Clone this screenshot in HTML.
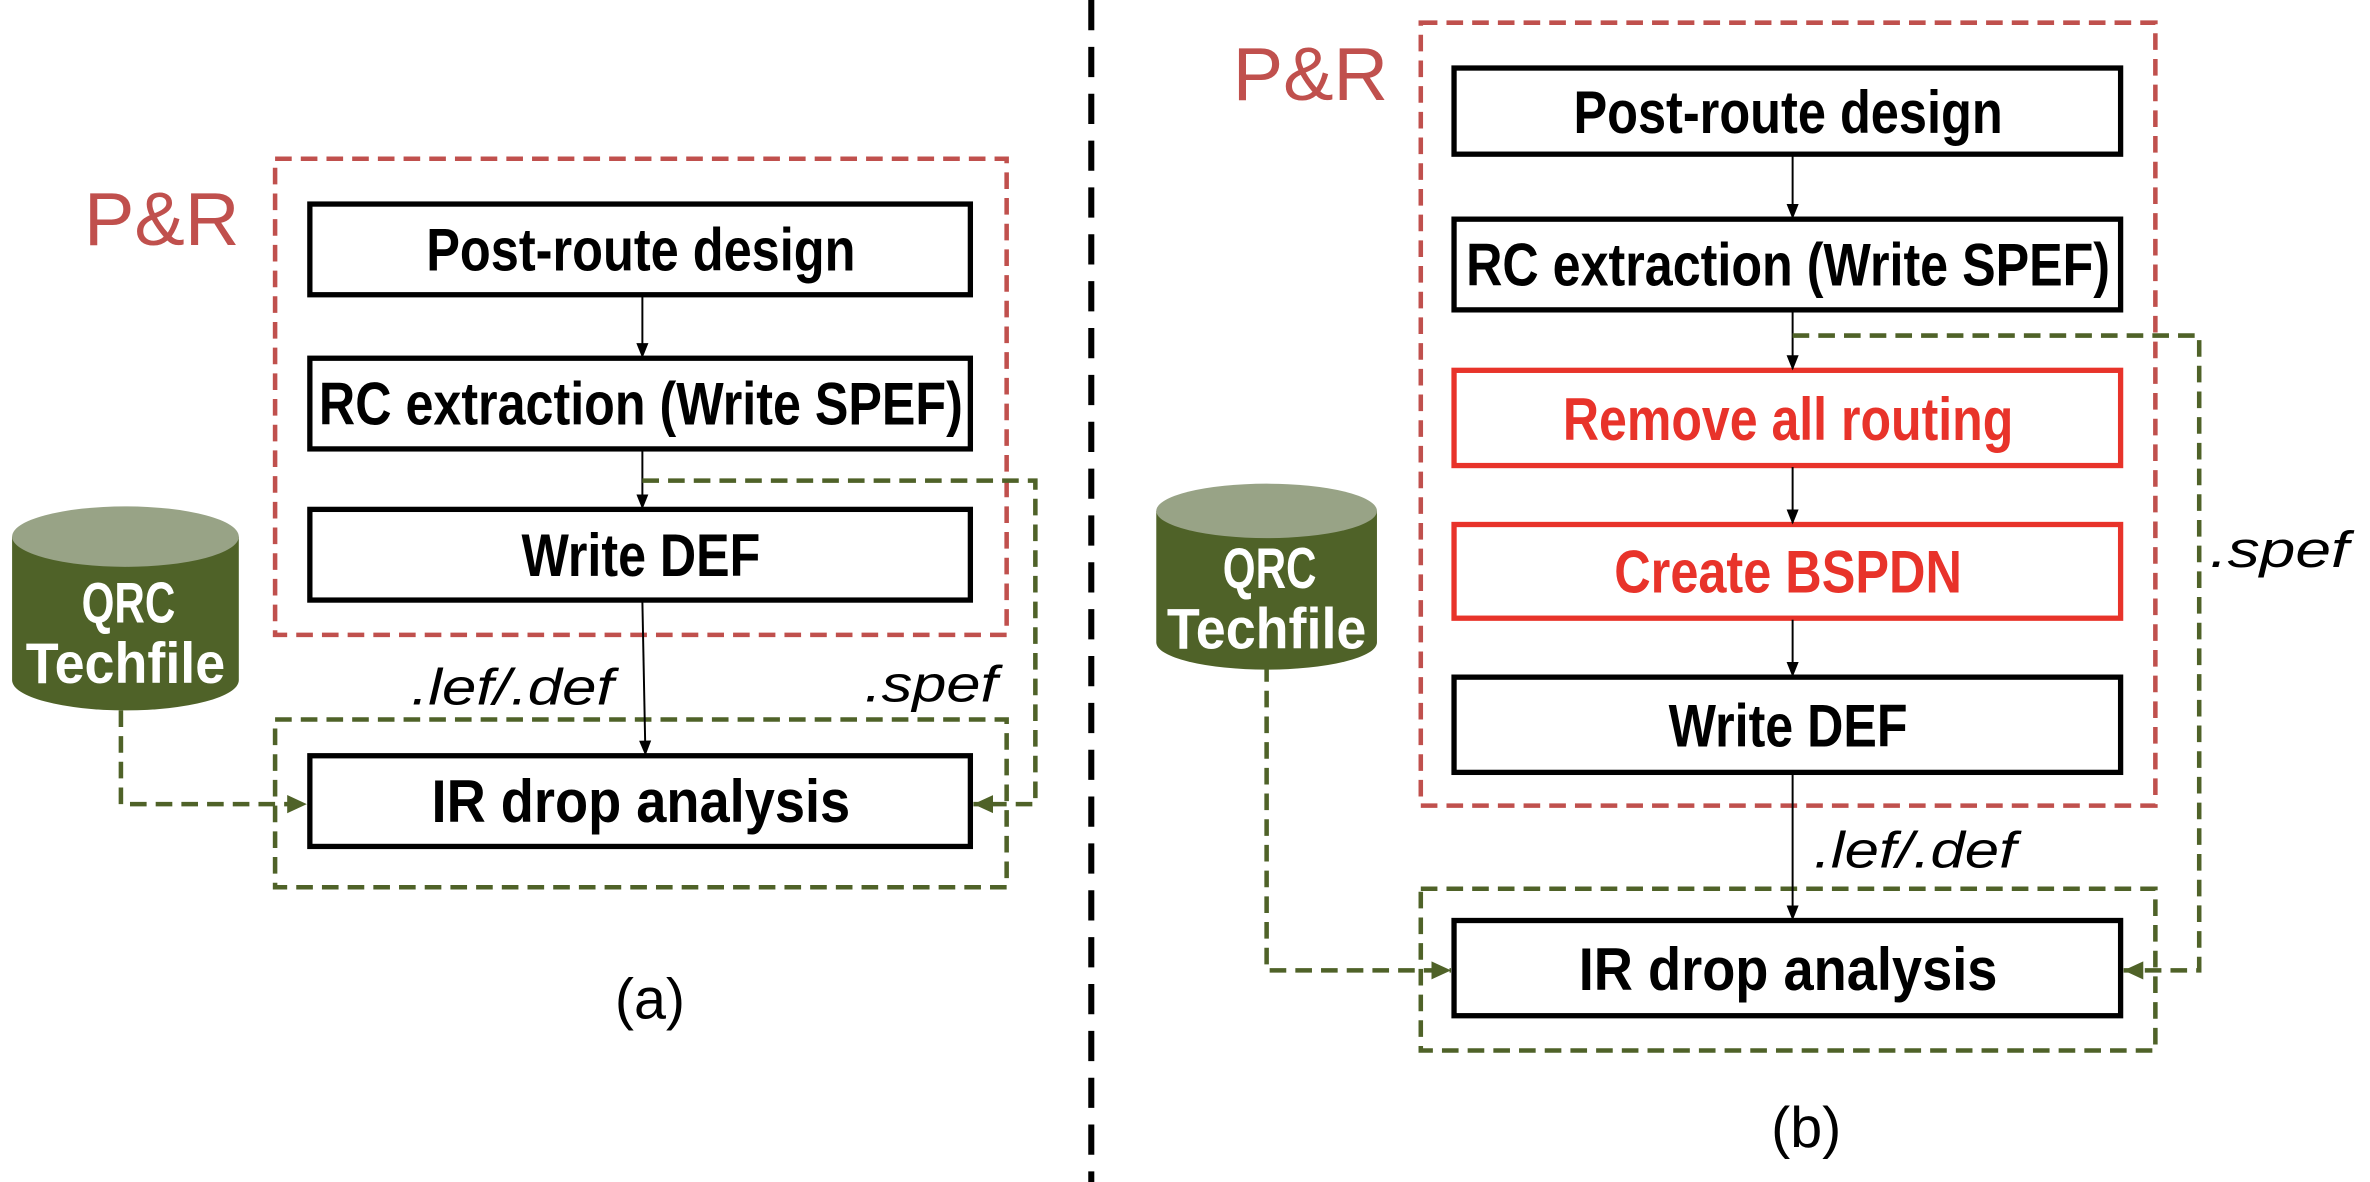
<!DOCTYPE html>
<html><head><meta charset="utf-8"><style>html,body{margin:0;padding:0;background:#fff}svg{display:block}</style></head>
<body>
<svg width="2370" height="1182" viewBox="0 0 1568 782" xmlns="http://www.w3.org/2000/svg" font-family="Liberation Sans, Arial, sans-serif">
<defs>
<marker id="ab" markerWidth="10" markerHeight="10" refX="9" refY="5" orient="auto" markerUnits="userSpaceOnUse"><path d="M0,1 L10,5 L0,9 z" fill="#000"/></marker>
<marker id="ag" markerWidth="14" markerHeight="14" refX="13" refY="7" orient="auto" markerUnits="userSpaceOnUse"><path d="M0,1 L13,7 L0,13 z" fill="#4F6228"/></marker>
</defs>
<line x1="722" y1="0" x2="722" y2="782" stroke="#000" stroke-width="4" stroke-dasharray="20,11"/>

<!-- LEFT -->
<rect x="182" y="105" width="484" height="315" fill="none" stroke="#C0504D" stroke-width="3" stroke-dasharray="11,6"/>
<rect x="182" y="476" width="484" height="111" fill="none" stroke="#4F6228" stroke-width="3" stroke-dasharray="11,6"/>
<text x="107" y="162" font-size="50" fill="#C0504D" text-anchor="middle">P&amp;R</text>
<g stroke="#000" stroke-width="3.5" fill="#fff">
<rect x="205" y="135" width="437" height="60"/>
<rect x="205" y="237" width="437" height="60"/>
<rect x="205" y="337" width="437" height="60"/>
<rect x="205" y="500" width="437" height="60"/>
</g>
<g font-weight="bold" font-size="40" text-anchor="middle" fill="#000">
<text x="424" y="179" textLength="284" lengthAdjust="spacingAndGlyphs">Post-route design</text>
<text x="424" y="281" textLength="426" lengthAdjust="spacingAndGlyphs">RC extraction (Write SPEF)</text>
<text x="424" y="381" textLength="158" lengthAdjust="spacingAndGlyphs">Write DEF</text>
<text x="424" y="544" textLength="277" lengthAdjust="spacingAndGlyphs">IR drop analysis</text>
</g>
<g stroke="#000" stroke-width="1.3">
<line x1="425" y1="196" x2="425" y2="236" marker-end="url(#ab)"/>
<line x1="425" y1="298" x2="425" y2="336" marker-end="url(#ab)"/>
<line x1="425" y1="398" x2="427" y2="499" marker-end="url(#ab)"/>
</g>
<g fill="none" stroke="#4F6228" stroke-width="3" stroke-dasharray="11,6">
<path d="M425,318 H685 V532 H644" marker-end="url(#ag)"/>
<path d="M80,470 V532 H203" marker-end="url(#ag)"/>
</g>
<path d="M8,355 V450 A75,20 0 0 0 158,450 V355 Z" fill="#4F6228"/>
<ellipse cx="83" cy="355" rx="75" ry="20" fill="#98A386"/>
<g fill="#fff" font-weight="bold" font-size="38" text-anchor="middle">
<text x="85" y="412" textLength="62" lengthAdjust="spacingAndGlyphs">QRC</text>
<text x="83" y="452" textLength="132" lengthAdjust="spacingAndGlyphs">Techfile</text>
</g>
<g font-style="italic" font-size="34" fill="#000">
<text x="272" y="466" textLength="134" lengthAdjust="spacingAndGlyphs">.lef/.def</text>
<text x="572" y="464" textLength="88" lengthAdjust="spacingAndGlyphs">.spef</text>
</g>
<text x="430" y="674" font-size="38" text-anchor="middle">(a)</text>

<!-- RIGHT -->
<rect x="940" y="15" width="486" height="518" fill="none" stroke="#C0504D" stroke-width="3" stroke-dasharray="11,6"/>
<rect x="940" y="588" width="486" height="107" fill="none" stroke="#4F6228" stroke-width="3" stroke-dasharray="11,6"/>
<text x="867" y="66" font-size="50" fill="#C0504D" text-anchor="middle">P&amp;R</text>
<g stroke-width="3.5" fill="#fff">
<rect x="962" y="45" width="441" height="57" stroke="#000"/>
<rect x="962" y="145" width="441" height="60" stroke="#000"/>
<rect x="962" y="245" width="441" height="63" stroke="#E8332A"/>
<rect x="962" y="347" width="441" height="62" stroke="#E8332A"/>
<rect x="962" y="448" width="441" height="63" stroke="#000"/>
<rect x="962" y="609" width="441" height="63" stroke="#000"/>
</g>
<g font-weight="bold" font-size="40" text-anchor="middle" fill="#000">
<text x="1183" y="88" textLength="284" lengthAdjust="spacingAndGlyphs">Post-route design</text>
<text x="1183" y="189" textLength="426" lengthAdjust="spacingAndGlyphs">RC extraction (Write SPEF)</text>
<text x="1183" y="291" textLength="298" lengthAdjust="spacingAndGlyphs" fill="#E8332A">Remove all routing</text>
<text x="1183" y="392" textLength="230" lengthAdjust="spacingAndGlyphs" fill="#E8332A">Create BSPDN</text>
<text x="1183" y="494" textLength="158" lengthAdjust="spacingAndGlyphs">Write DEF</text>
<text x="1183" y="655" textLength="277" lengthAdjust="spacingAndGlyphs">IR drop analysis</text>
</g>
<g stroke="#000" stroke-width="1.3">
<line x1="1186" y1="103" x2="1186" y2="144" marker-end="url(#ab)"/>
<line x1="1186" y1="206" x2="1186" y2="244" marker-end="url(#ab)"/>
<line x1="1186" y1="309" x2="1186" y2="346" marker-end="url(#ab)"/>
<line x1="1186" y1="410" x2="1186" y2="447" marker-end="url(#ab)"/>
<line x1="1186" y1="512" x2="1186" y2="608" marker-end="url(#ab)"/>
</g>
<g fill="none" stroke="#4F6228" stroke-width="3" stroke-dasharray="11,6">
<path d="M1186,222 H1455 V642 H1405" marker-end="url(#ag)"/>
<path d="M838,440 V642 H960" marker-end="url(#ag)"/>
</g>
<path d="M765,338 V425 A73,18 0 0 0 911,425 V338 Z" fill="#4F6228"/>
<ellipse cx="838" cy="338" rx="73" ry="18" fill="#98A386"/>
<g fill="#fff" font-weight="bold" font-size="38" text-anchor="middle">
<text x="840" y="389" textLength="62" lengthAdjust="spacingAndGlyphs">QRC</text>
<text x="838" y="429" textLength="132" lengthAdjust="spacingAndGlyphs">Techfile</text>
</g>
<g font-style="italic" font-size="34" fill="#000">
<text x="1200" y="574" textLength="134" lengthAdjust="spacingAndGlyphs">.lef/.def</text>
<text x="1462" y="375" textLength="92" lengthAdjust="spacingAndGlyphs">.spef</text>
</g>
<text x="1195" y="759" font-size="38" text-anchor="middle">(b)</text>
</svg>
</body></html>
